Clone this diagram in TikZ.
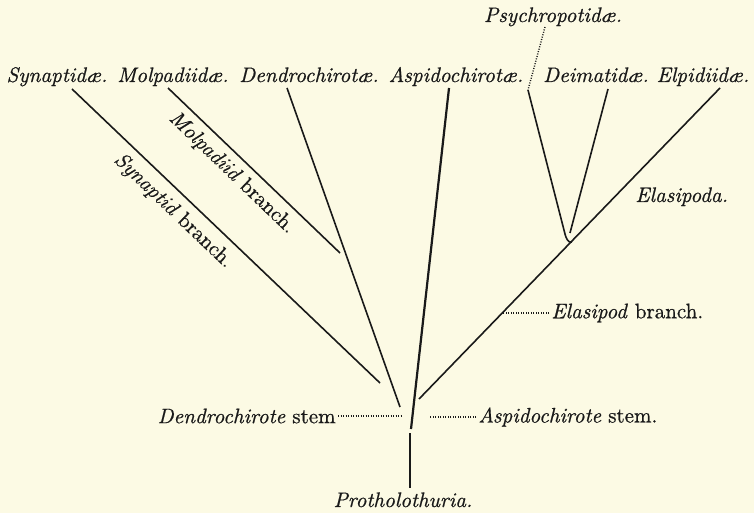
\documentclass[tikz,border=0pt]{standalone}
\usepackage{fontspec}
\setmainfont{lmroman10-regular.otf}[ItalicFont=lmroman10-italic.otf, FakeBold=0.7]
\usetikzlibrary{positioning}
\definecolor{paper}{RGB}{252,250,228}
\colorlet{ink}{black!90}

\begin{document}
\begin{tikzpicture}[x=0.5pt, y=-0.5pt,
    taxon/.style={font=\fontsize{10.5}{12}\selectfont\itshape, inner sep=1pt, text=ink},
    lab/.style={font=\fontsize{10.5}{12}\selectfont, inner sep=1pt, text=ink},
    branch/.style={draw=ink, line width=0.8pt},
    trunk/.style={draw=ink, line width=1.1pt},
    leader/.style={draw=ink, line width=0.7pt, dash pattern=on 0.5pt off 0.75pt}
  ]
  \fill[paper] (0,0) rectangle (754,513);
  \useasboundingbox (0,0) rectangle (754,513);

  % names of the groups
  \node[taxon, anchor=base] (psy) at (553,22) {Psychropotidæ.};
  \node[taxon, anchor=base] (syn) at (57,82) {Synaptidæ.};
  \node[taxon, anchor=base] (mol) at (173,82) {Molpadiidæ.};
  \node[taxon, anchor=base] (den) at (309,82) {Dendrochirotæ.};
  \node[taxon, anchor=base] (asp) at (456,82) {Aspidochirotæ.};
  \node[taxon, anchor=base] (dei) at (596,82) {Deimatidæ.};
  \node[taxon, anchor=base] (elp) at (703,82) {Elpidiidæ.};
  \node[taxon, anchor=base] (pro) at (403,507) {Protholothuria.};

  % ends of the branches
  \coordinate (syn-t) at (72,89);   \coordinate (syn-b) at (380,383);
  \coordinate (mol-t) at (168,88);  \coordinate (mol-b) at (340,253);
  \coordinate (den-t) at (287,88);  \coordinate (den-b) at (400,407);
  \coordinate (asp-t) at (449,88);  \coordinate (asp-b) at (411,429);
  \coordinate (ela-t) at (720,88);  \coordinate (ela-b) at (419,399);
  \coordinate (psy-t) at (528,90);  \coordinate (vee)   at (572,242);
  \coordinate (dei-t) at (608,89);  \coordinate (dei-b) at (570,233);
  \coordinate (pro-t) at (410,433); \coordinate (pro-b) at (410,488);
  \coordinate (psy-d) at (545,27);

  \draw[branch] (syn-t) -- node[lab, pos=0.37, sloped, below=4pt, inner sep=0pt]
    {\textit{Synaptid} branch.} (syn-b);
  \draw[branch] (mol-t) -- node[lab, pos=0.44, sloped, below=3.5pt, inner sep=0pt]
    {\textit{Molpadiid} branch.} (mol-b);
  \foreach \a/\b in {den-t/den-b, ela-t/ela-b, dei-t/dei-b}
    \draw[branch] (\a) -- (\b);
  \draw[branch] (psy-t) -- (565,234) to[out=-76, in=200] (vee);
  \draw[trunk] (asp-t) -- (asp-b);
  \draw[trunk] (pro-t) -- (pro-b);

  % side labels with dotted leaders
  \node[taxon, anchor=base west] (elas) at (633,202) {Elasipoda.};
  \node[lab, anchor=west] (elbr) at (549,313) {\textit{Elasipod} branch.};
  \coordinate (elbr-p) at (503,313);
  \node[lab, anchor=east] (dstem) at (338,416) {\textit{Dendrochirote} stem};
  \coordinate (dstem-p) at (402,416);
  \node[lab, anchor=west] (astem) at (476,417) {\textit{Aspidochirote} stem.};
  \coordinate (astem-p) at (430,417);
  \draw[leader] (elbr.west) -- (elbr-p);
  \draw[leader] (dstem.east) -- (dstem-p);
  \draw[leader] (astem.west) -- (astem-p);
  \draw[leader] (psy-d) -- (psy-t);
\end{tikzpicture}
\end{document}
